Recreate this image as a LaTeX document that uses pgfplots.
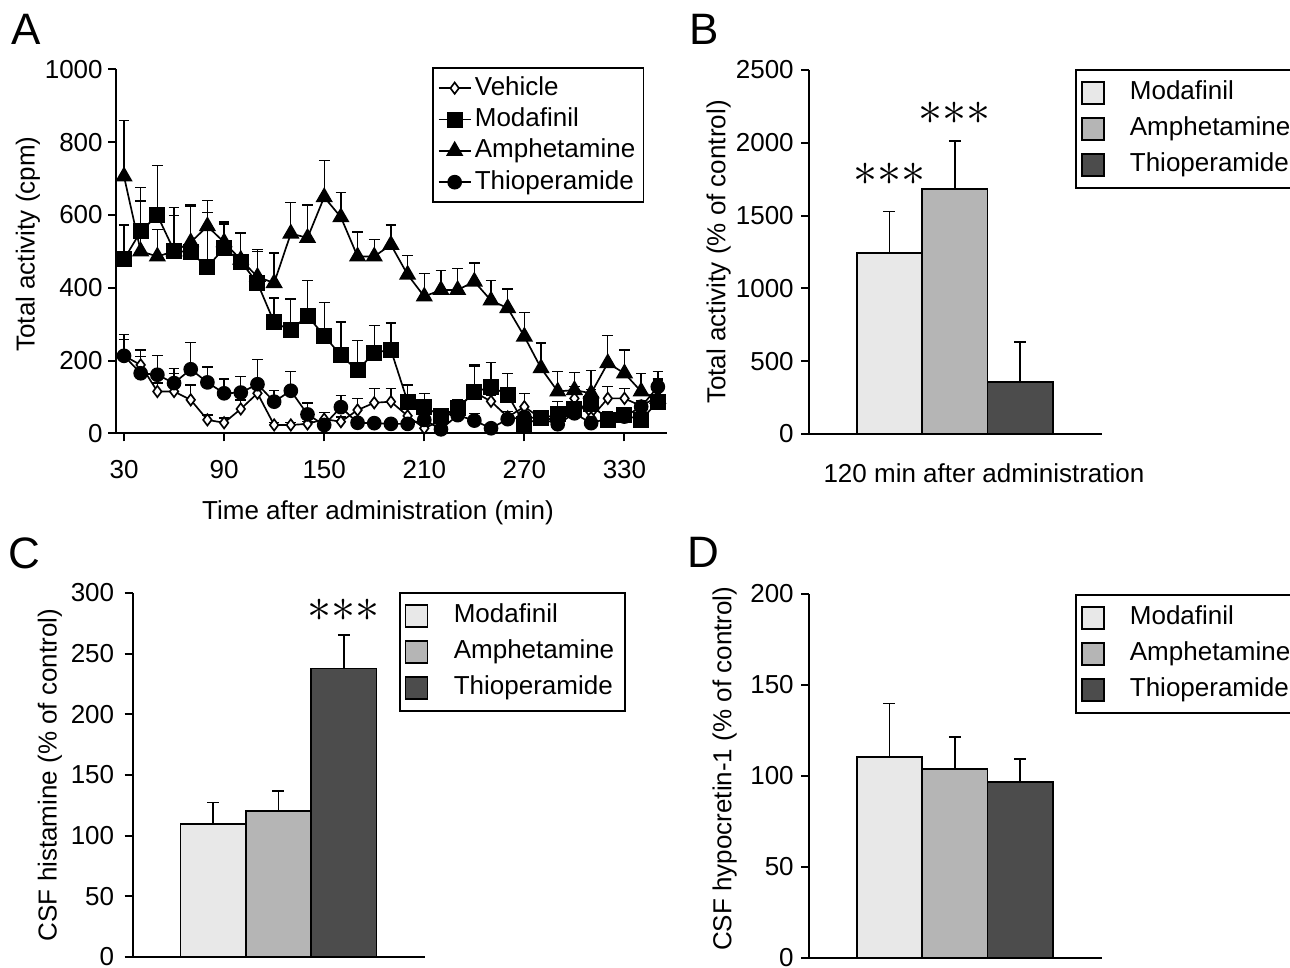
\documentclass[border=0pt]{standalone}
\usepackage{pgfplots}
\pgfplotsset{compat=1.18}
\usepackage{fontspec}
\setmainfont{Liberation Sans}

\definecolor{cmod}{HTML}{E8E8E8}
\definecolor{camp}{HTML}{B5B5B5}
\definecolor{cthi}{HTML}{4C4C4C}

\pgfplotsset{
  panel/.style={
    scale only axis, axis lines=left,
    axis line style={-, line width=0.6pt},
    tick align=outside, major tick length=2.4pt,
    tick style={black, line width=0.6pt},
    /pgf/number format/assume math mode=true,
    /pgf/number format/1000 sep={},
    ymin=0, clip=false,
    legend cell align=left,
  },
  barpanel/.style={
    panel, xtick=\empty, ybar, bar width=1, bar shift=0pt,
    xmin=-0.23, xmax=4.25, width=87.9pt, height=109.2pt,
    yticklabel style={xshift=0.6pt},
    legend style={anchor=north west, draw=black, line width=0.5pt,
      inner xsep=1.5pt, inner ysep=1.5pt,
      nodes={inner sep=1.7pt, text height=5.8pt, text depth=1.6pt}},
  },
  sq/.style={legend image code/.code={%
      \draw[##1, line width=0.5pt] (0pt,-3.3pt) rectangle (6.6pt,3.3pt);
      \path (12.5pt,0pt);}},
  eb/.style={error bars/.cd, y dir=plus, y explicit,
    error bar style={line width=0.4pt, black},
    error mark options={rotate=90, mark size=1.6pt, line width=0.4pt, black}},
  ebb/.style={error bars/.cd, y dir=plus, y explicit,
    error bar style={line width=0.5pt, black},
    error mark options={rotate=90, mark size=1.8pt, line width=0.5pt, black}},
}
\tikzset{
  stars/.style={font=\fontsize{14.5}{15}\selectfont, inner sep=0pt},
  letter/.style={font=\fontsize{13.2}{14}\selectfont, inner sep=0pt},
}

\begin{document}
\fontsize{7.8}{9.4}\selectfont
\begin{tikzpicture}

% ---------------- A
\begin{axis}[panel,
  at={(34.8pt,160.1pt)}, anchor=south west,
  width=165.3pt, height=109.2pt,
  xmin=25.2, xmax=355.5, ymax=1000,
  xtick={30,90,...,330}, ytick={0,200,...,1000},
  xlabel={Time after administration (min)},
  ylabel={Total activity (cpm)},
  xlabel style={at={(axis description cs:0.4755,-0.219)}, anchor=center},
  ylabel style={at={(axis description cs:-0.16,0.52)}, anchor=center},
  xticklabel style={yshift=-2.8pt},
  yticklabel style={xshift=1.2pt},
  legend style={at={(axis description cs:0.5735,1.0055)}, anchor=north west,
    draw=black, line width=0.5pt, inner xsep=1.5pt, inner ysep=1.3pt,
    nodes={inner sep=1pt, text height=5.8pt, text depth=1.6pt}},
  legend image code/.code={\draw[mark repeat=2,mark phase=2,#1]
    plot coordinates {(0pt,0pt) (4.8pt,0pt) (9.6pt,0pt)};},
]
\addplot[black, line width=0.5pt, mark=diamond*, mark size=1.7pt,
  mark options={fill=white, line width=0.5pt}, eb] coordinates {
 (30,213) +- (0,44) (40,188) +- (0,41) (50,115) +- (0,23) (60,115) +- (0,50)
 (70,92) +- (0,41) (80,37) +- (0,13) (90,29) +- (0,13) (100,67) +- (0,25)
 (110,110) +- (0,37) (120,23) +- (0,7) (130,23) +- (0,7) (140,26) +- (0,6)
 (150,39) +- (0,18) (160,32) +- (0,13) (170,64) +- (0,32) (180,84) +- (0,40)
 (190,87) +- (0,37) (200,48) +- (0,40) (210,14) +- (0,16) (220,35) +- (0,15)
 (230,69) +- (0,23) (240,113) +- (0,72) (250,88) +- (0,17) (260,45) +- (0,15)
 (270,73) +- (0,37) (280,41) +- (0,19) (290,38) +- (0,22) (300,96) +- (0,32)
 (310,43) +- (0,17) (320,96) +- (0,32) (330,96) +- (0,28) (340,75) +- (0,15)
 (350,101) +- (0,49)};
\addlegendentry{Vehicle}
\addplot[black, line width=0.5pt, mark=square*, mark size=2.15pt,
  mark options={fill=black}, eb] coordinates {
 (30,478) +- (0,94) (40,555) +- (0,121) (50,599) +- (0,137) (60,502) +- (0,118)
 (70,497) +- (0,128) (80,457) +- (0,150) (90,509) +- (0,66) (100,472) +- (0,78)
 (110,413) +- (0,87) (120,305) +- (0,67) (130,283) +- (0,86) (140,323) +- (0,96)
 (150,268) +- (0,92) (160,214) +- (0,92) (170,173) +- (0,82) (180,222) +- (0,74)
 (190,229) +- (0,74) (200,87) +- (0,46) (210,73) +- (0,37) (220,48) +- (0,12)
 (230,69) +- (0,21) (240,113) +- (0,75) (250,128) +- (0,66) (260,106) +- (0,59)
 (270,26) +- (0,24) (280,41) +- (0,14) (290,52) +- (0,36) (300,68) +- (0,42)
 (310,80) +- (0,40) (320,37) +- (0,23) (330,50) +- (0,19) (340,37) +- (0,18)
 (350,87) +- (0,63)};
\addlegendentry{Modafinil}
\addplot[black, line width=0.5pt, mark=triangle*, mark size=2.5pt,
  mark options={fill=black}, eb] coordinates {
 (30,706) +- (0,154) (40,500) +- (0,138) (50,486) +- (0,74) (60,500) +- (0,98)
 (70,525) +- (0,103) (80,569) +- (0,71) (90,525) +- (0,56) (100,477) +- (0,73)
 (110,430) +- (0,75) (120,413) +- (0,82) (130,549) +- (0,86) (140,537) +- (0,90)
 (150,649) +- (0,101) (160,594) +- (0,68) (170,486) +- (0,67) (180,486) +- (0,46)
 (190,518) +- (0,54) (200,436) +- (0,53) (210,376) +- (0,64) (220,394) +- (0,53)
 (230,394) +- (0,58) (240,417) +- (0,51) (250,365) +- (0,54) (260,344) +- (0,53)
 (270,266) +- (0,66) (280,179) +- (0,69) (290,115) +- (0,55) (300,119) +- (0,49)
 (310,110) +- (0,62) (320,193) +- (0,75) (330,165) +- (0,64) (340,115) +- (0,50)
 (350,95) +- (0,75)};
\addlegendentry{Amphetamine}
\addplot[black, line width=0.5pt, mark=*, mark size=1.95pt,
  mark options={fill=black}, eb] coordinates {
 (30,213) +- (0,58) (40,165) +- (0,46) (50,161) +- (0,52) (60,138) +- (0,41)
 (70,176) +- (0,74) (80,140) +- (0,42) (90,110) +- (0,39) (100,112) +- (0,44)
 (110,135) +- (0,67) (120,87) +- (0,30) (130,117) +- (0,53) (140,52) +- (0,31)
 (150,23) +- (0,12) (160,72) +- (0,32) (170,29) +- (0,6) (180,28) +- (0,6)
 (190,26) +- (0,6) (200,26) +- (0,6) (210,37) +- (0,18) (220,11) +- (0,7)
 (230,50) +- (0,20) (240,35) +- (0,20) (250,14) +- (0,6) (260,39) +- (0,11)
 (270,45) +- (0,10) (280,41) +- (0,11) (290,25) +- (0,10) (300,55) +- (0,25)
 (310,28) +- (0,7) (320,41) +- (0,14) (330,46) +- (0,14) (340,73) +- (0,17)
 (350,128) +- (0,19)};
\addlegendentry{Thioperamide}
\end{axis}

% ---------------- B
\begin{axis}[barpanel,
  at={(242.7pt,159.9pt)}, anchor=south west,
  ymax=2500, ytick={0,500,...,2500},
  ylabel={Total activity (\% of control)},
  ylabel style={at={(axis description cs:-0.308,0.5)}, anchor=center},
  xlabel={120 min after administration},
  xlabel style={at={(axis description cs:0.597,-0.107)}, anchor=center},
  legend style={at={(axis description cs:0.908,1.003)}},
]
\addplot[sq, draw=black, line width=0.5pt, fill=cmod, ebb] coordinates {(1,1243) +- (0,285)};
\addlegendentry{Modafinil}
\addplot[sq, draw=black, line width=0.5pt, fill=camp, ebb] coordinates {(2,1685) +- (0,327)};
\addlegendentry{Amphetamine}
\addplot[sq, draw=black, line width=0.5pt, fill=cthi, ebb] coordinates {(3,355) +- (0,275)};
\addlegendentry{Thioperamide}
\node[stars] at (axis cs:1,1786) {${\ast}{\ast}{\ast}$};
\node[stars] at (axis cs:2,2201) {${\ast}{\ast}{\ast}$};
\end{axis}

% ---------------- C
\begin{axis}[barpanel,
  at={(39.75pt,3.0pt)}, anchor=south west,
  width=87.75pt, xmin=-0.232, xmax=4.24,
  ymax=300, ytick={0,50,...,300},
  yticklabel style={xshift=-0.9pt},
  ylabel={CSF histamine (\% of control)},
  ylabel style={at={(axis description cs:-0.282,0.5)}, anchor=center},
  legend style={at={(axis description cs:0.911,1.003)}},
]
\addplot[sq, draw=black, line width=0.5pt, fill=cmod, ebb] coordinates {(1,109.5) +- (0,17.8)};
\addlegendentry{Modafinil}
\addplot[sq, draw=black, line width=0.5pt, fill=camp, ebb] coordinates {(2,120.4) +- (0,16.3)};
\addlegendentry{Amphetamine}
\addplot[sq, draw=black, line width=0.5pt, fill=cthi, ebb] coordinates {(3,237.9) +- (0,27.4)};
\addlegendentry{Thioperamide}
\node[stars] at (axis cs:3,286) {${\ast}{\ast}{\ast}$};
\end{axis}

% ---------------- D
\begin{axis}[barpanel,
  at={(242.7pt,2.7pt)}, anchor=south west,
  ymax=200, ytick={0,50,...,200},
  ylabel={CSF hypocretin-1 (\% of control)},
  ylabel style={at={(axis description cs:-0.288,0.52)}, anchor=center},
  legend style={at={(axis description cs:0.908,1.0)}},
]
\addplot[sq, draw=black, line width=0.5pt, fill=cmod, ebb] coordinates {(1,110.6) +- (0,29.3)};
\addlegendentry{Modafinil}
\addplot[sq, draw=black, line width=0.5pt, fill=camp, ebb] coordinates {(2,103.7) +- (0,17.8)};
\addlegendentry{Amphetamine}
\addplot[sq, draw=black, line width=0.5pt, fill=cthi, ebb] coordinates {(3,96.7) +- (0,12.6)};
\addlegendentry{Thioperamide}
\end{axis}

\node[letter] at (7.95pt,281.4pt) {A};
\node[letter] at (211.35pt,281.4pt) {B};
\node[letter] at (7.2pt,124.2pt) {C};
\node[letter] at (211.05pt,124.35pt) {D};

\pgfresetboundingbox
\useasboundingbox (0pt,0pt) rectangle (387pt,290.1pt);
\end{tikzpicture}
\end{document}
